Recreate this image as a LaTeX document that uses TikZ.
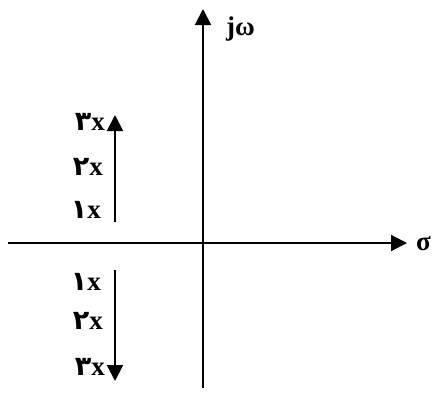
\documentclass[tikz,border=0pt]{standalone}
\usepackage{fontspec}
\setmainfont{Liberation Serif}
\newfontfamily\fadigits[Script=Arabic]{DejaVu Sans}
\usetikzlibrary{arrows.meta}
\tikzset{
  axis/.style={line width=2pt,-{Triangle[length=16pt,width=16pt]}},
  lbl/.style={font=\fontsize{27}{30}\selectfont\bfseries, inner sep=0pt},
}
\begin{document}
\begin{tikzpicture}[x=1pt,y=-1pt]
\useasboundingbox (0,0) rectangle (436,392);
% axes
\coordinate (yb) at (203,388);
\coordinate (yt) at (203,9);
\coordinate (xl) at (8,243);
\coordinate (xr) at (407,243);
\draw[axis] (yb) -- (yt);
\draw[axis] (xl) -- (xr);
\node[lbl, anchor=west] (jw) at (226,29) {jω};
\node[lbl, anchor=west] (sig) at (416,244) {σ};
% upper arrow
\coordinate (ua) at (115,222);
\coordinate (ub) at (115,115);
\draw[axis] (ua) -- (ub);
\node[lbl, anchor=east] (u3) at (105,122) {{\fadigits ۳}x};
\node[lbl, anchor=east] (u2) at (103,167) {{\fadigits ۲}x};
\node[lbl, anchor=east] (u1) at (101,210) {{\fadigits ۱}x};
% lower arrow
\coordinate (la) at (115,270);
\coordinate (lb) at (115,381);
\draw[axis] (la) -- (lb);
\node[lbl, anchor=east] (l1) at (101,282) {{\fadigits ۱}x};
\node[lbl, anchor=east] (l2) at (103,321) {{\fadigits ۲}x};
\node[lbl, anchor=east] (l3) at (105,367) {{\fadigits ۳}x};
\end{tikzpicture}
\end{document}
